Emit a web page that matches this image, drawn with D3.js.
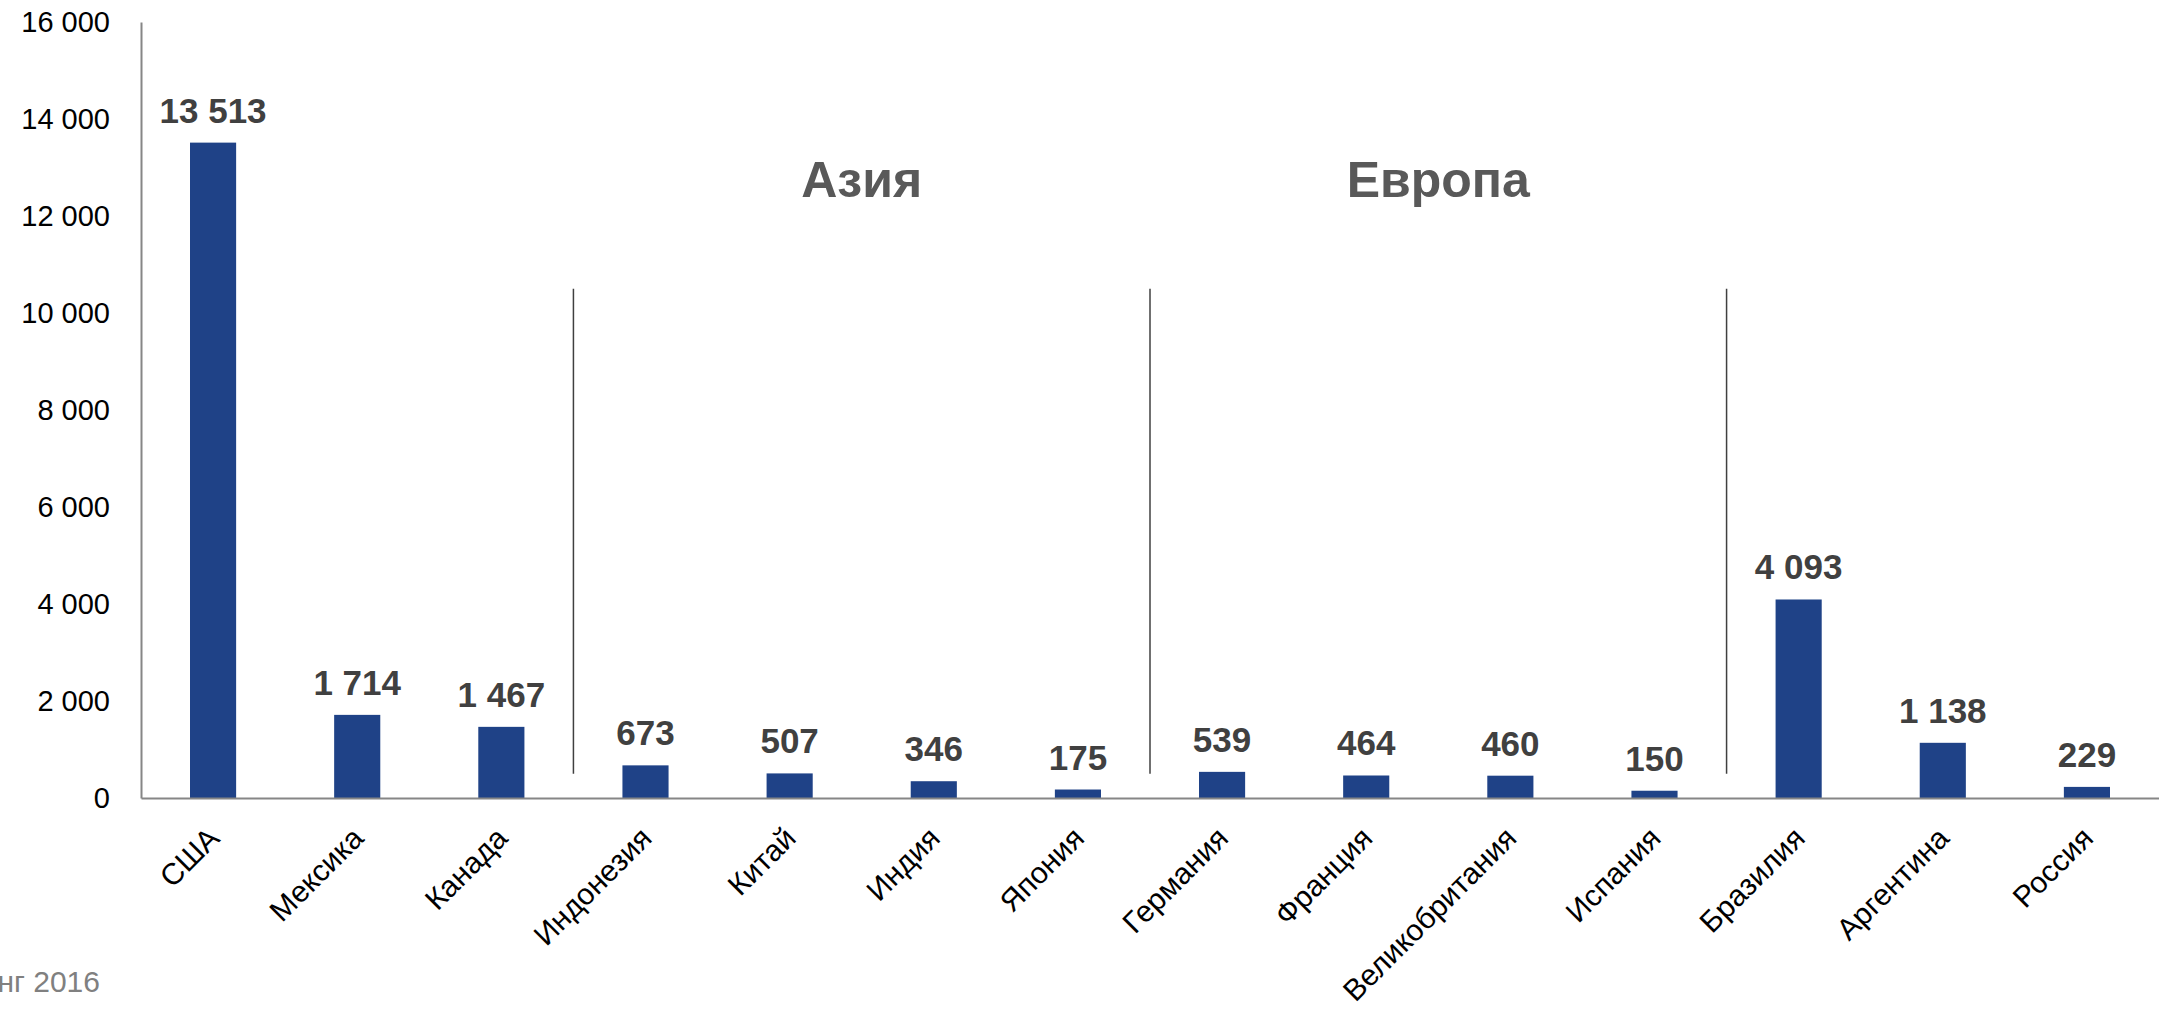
<!DOCTYPE html>
<html>
<head>
<meta charset="utf-8">
<script src="https://cdn.jsdelivr.net/npm/d3@7"></script>
<style>
  html, body { margin: 0; padding: 0; background: #fff; overflow: hidden; }
  svg { display: block; font-family: "Liberation Sans", Arial, sans-serif; }
</style>
</head>
<body>
<svg id="chart" width="2159" height="1011"></svg>
<script>
// ---- data ----
const categories = ["США", "Мексика", "Канада", "Индонезия", "Китай", "Индия", "Япония",
                    "Германия", "Франция", "Великобритания", "Испания", "Бразилия", "Аргентина", "Россия"];
const values = [13513, 1714, 1467, 673, 507, 346, 175, 539, 464, 460, 150, 4093, 1138, 229];
const yTicks = [0, 2000, 4000, 6000, 8000, 10000, 12000, 14000, 16000];
const groupNames = ["Азия", "Европа"];
const groupFirst = ["Индонезия", "Германия"];
const groupLast = ["Япония", "Испания"];
const separatorsBefore = ["Индонезия", "Германия", "Бразилия"];
const separatorRange = [500, 10500];
const footnote = "нг 2016";

// ---- layout ----
const W = 2159, H = 1011;
const margin = { left: 141, right: 0, top: 22, bottom: 213 };
const svg = d3.select("#chart");

const loc = d3.formatLocale({ decimal: ",", thousands: " ", grouping: [3], currency: ["", ""] });
const fmt = loc.format(",");

const x = d3.scaleBand()
  .domain(categories)
  .range([margin.left, W - margin.right])
  .paddingInner(0.68)
  .paddingOuter(0.34);

const y = d3.scaleLinear()
  .domain([0, 16000])
  .range([H - margin.bottom, margin.top]);

// bars
svg.append("g").selectAll("rect")
  .data(categories)
  .join("rect")
  .attr("x", d => x(d))
  .attr("width", x.bandwidth())
  .attr("y", (d, i) => y(values[i]))
  .attr("height", (d, i) => y(0) - y(values[i]))
  .attr("fill", "#1F4287");

// value labels
svg.append("g").selectAll("text")
  .data(categories)
  .join("text")
  .attr("x", d => x(d) + x.bandwidth() / 2)
  .attr("y", (d, i) => y(values[i]) - 20)
  .attr("text-anchor", "middle")
  .attr("font-size", 35)
  .attr("font-weight", "bold")
  .attr("fill", "#404040")
  .text((d, i) => fmt(values[i]));

// y axis
const yAxis = d3.axisLeft(y).tickValues(yTicks).tickSize(0).tickPadding(31).tickFormat(fmt);
const gy = svg.append("g").attr("transform", `translate(${margin.left},0)`).call(yAxis);
gy.select(".domain").attr("stroke", "#868686").attr("stroke-width", 2);
gy.selectAll("text").attr("font-size", 29).attr("fill", "#000")
  .attr("font-family", "Liberation Sans, Arial, sans-serif");

// x axis
const xAxis = d3.axisBottom(x).tickSize(0).tickFormat("");
const gx = svg.append("g").attr("transform", `translate(0,${y(0)})`).call(xAxis);
gx.select(".domain").attr("stroke", "#868686").attr("stroke-width", 2);

// x labels rotated
svg.append("g").selectAll("text")
  .data(categories)
  .join("text")
  .attr("transform", d => `translate(${x(d) + x.bandwidth() / 2 + 8},${y(0) + 42}) rotate(-45)`)
  .attr("text-anchor", "end")
  .attr("font-size", 30)
  .attr("fill", "#000")
  .text(d => d);

// separators
const step = x.step();
svg.append("g").selectAll("line")
  .data(separatorsBefore)
  .join("line")
  .attr("x1", d => x(d) - x.paddingInner() * step / 2)
  .attr("x2", d => x(d) - x.paddingInner() * step / 2)
  .attr("y1", y(separatorRange[1]))
  .attr("y2", y(separatorRange[0]))
  .attr("stroke", "#404040")
  .attr("stroke-width", 1.5);

// group labels
svg.append("g").selectAll("text")
  .data(groupNames)
  .join("text")
  .attr("x", (d, i) => (x(groupFirst[i]) + x(groupLast[i]) + x.bandwidth()) / 2)
  .attr("y", 197)
  .attr("text-anchor", "middle")
  .attr("font-size", 50)
  .attr("font-weight", "bold")
  .attr("fill", "#595959")
  .text(d => d);

// footnote (cut off at the left edge as in the source)
svg.append("text")
  .attr("x", 100)
  .attr("y", 992)
  .attr("text-anchor", "end")
  .attr("font-size", 30)
  .attr("fill", "#808080")
  .text(footnote);
</script>
</body>
</html>
